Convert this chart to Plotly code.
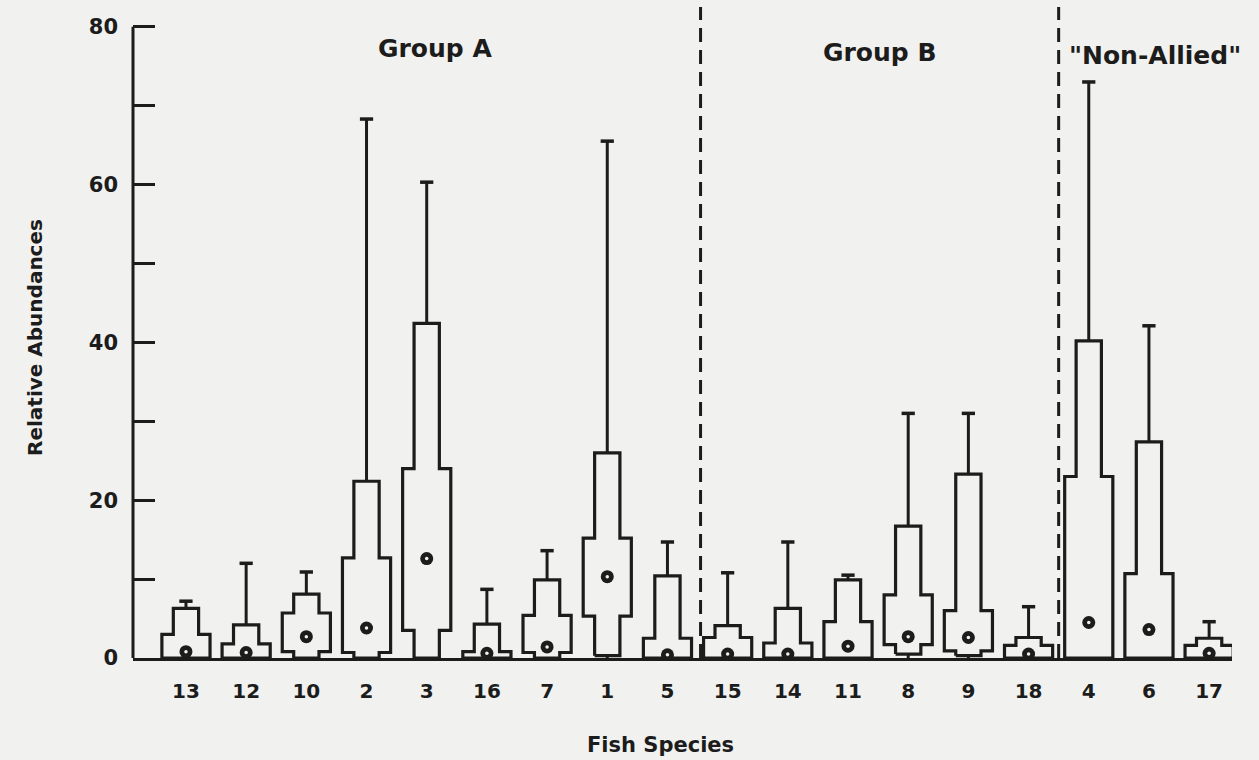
import plotly.graph_objects as go

species = ["13", "12", "10", "2", "3", "16", "7", "1", "5",
           "15", "14", "11", "8", "9", "18", "4", "6", "17"]
p10 = [0, 0, 0, 0, 0, 0, 0, 0.3, 0, 0, 0, 0, 0.5, 0.3, 0, 0, 0, 0]
p25 = [0, 0, 0.8, 0.7, 3.5, 0, 0.7, 5.3, 0, 0, 0, 0, 1.7, 0.9, 0, 0, 0, 0]
median = [0.8, 0.7, 2.7, 3.8, 12.6, 0.6, 1.4, 10.3, 0.4,
          0.5, 0.5, 1.5, 2.7, 2.6, 0.5, 4.5, 3.6, 0.6]
p75 = [3.0, 1.8, 5.7, 12.7, 24.0, 0.8, 5.4, 15.2, 2.5,
       2.6, 1.9, 4.6, 8.0, 6.0, 1.6, 23.0, 10.7, 1.6]
p90 = [6.3, 4.2, 8.1, 22.4, 42.4, 4.3, 9.9, 26.0, 10.4,
       4.1, 6.3, 9.9, 16.7, 23.3, 2.6, 40.2, 27.4, 2.5]
maximum = [7.2, 12.0, 10.9, 68.3, 60.3, 8.7, 13.6, 65.5, 14.7,
           10.8, 14.7, 10.5, 31.0, 31.0, 6.5, 73.0, 42.1, 4.6]

groups = ["Group A", "Group B", "\"Non-Allied\""]
group_x = [4.14, 11.53, 16.1]
group_y = [77.3, 76.7, 76.3]
dividers = [8.55, 14.5]

y_ticks = [0, 20, 40, 60, 80]
y_minor = [10, 30, 50, 70]

INK = "#1c1c1c"
BG = "#f1f1ef"
FONT = "DejaVu Sans"
W, N, CAP = 0.8, 0.42, 0.22

fig = go.Figure()

for i, name in enumerate(species):
    c = i
    xs = [c - N / 2, c - N / 2, c - W / 2, c - W / 2, c - N / 2, c - N / 2,
          c + N / 2, c + N / 2, c + W / 2, c + W / 2, c + N / 2, c + N / 2, c - N / 2]
    ys = [p10[i], p25[i], p25[i], p75[i], p75[i], p90[i],
          p90[i], p75[i], p75[i], p25[i], p25[i], p10[i], p10[i]]
    fig.add_trace(go.Scatter(x=xs, y=ys, mode="lines",
                             line=dict(color=INK, width=3.2),
                             hoverinfo="skip", showlegend=False))

wx, wy, cx, cy = [], [], [], []
for i in range(len(species)):
    wx += [i, i, None]
    wy += [p90[i], maximum[i], None]
    if p10[i] > 0:
        wx += [i, i, None]
        wy += [0, p10[i], None]
    cx += [i - CAP / 2, i + CAP / 2, None]
    cy += [maximum[i], maximum[i], None]

fig.add_trace(go.Scatter(x=wx, y=wy, mode="lines", line=dict(color=INK, width=3),
                         hoverinfo="skip", showlegend=False))
fig.add_trace(go.Scatter(x=cx, y=cy, mode="lines", line=dict(color=INK, width=3.5),
                         hoverinfo="skip", showlegend=False))
fig.add_trace(go.Scatter(x=list(range(len(species))), y=median, mode="markers",
                         marker=dict(size=13, color=INK, line=dict(width=0)),
                         showlegend=False))
fig.add_trace(go.Scatter(x=list(range(len(species))), y=median, mode="markers",
                         marker=dict(size=3.5, color=BG, line=dict(width=0)),
                         hoverinfo="skip", showlegend=False))

shapes = [dict(type="line", xref="paper", yref="paper", x0=0, x1=0,
               y0=0, y1=80 / 82.5, line=dict(color=INK, width=3))]
for d in dividers:
    shapes.append(dict(type="line", xref="x", yref="paper", x0=d, x1=d, y0=0, y1=1,
                       line=dict(color=INK, width=3, dash="14px,8px")))

annotations = []
for g, gx, gy in zip(groups, group_x, group_y):
    annotations.append(dict(text="<b>%s</b>" % g, x=gx, y=gy, xref="x", yref="y",
                            showarrow=False, xanchor="center", yanchor="middle",
                            font=dict(family=FONT, size=25, color=INK)))
annotations.append(dict(text="<b>Fish Species</b>", x=(660 - 133) / 1099, y=(658 - 745) / 651,
                        xref="paper", yref="paper", showarrow=False,
                        xanchor="center", yanchor="middle",
                        font=dict(family=FONT, size=21, color=INK)))
annotations.append(dict(text="<b>Relative Abundances</b>", x=(35 - 133) / 1099,
                        y=(658 - 338) / 651, xref="paper", yref="paper", showarrow=False,
                        xanchor="center", yanchor="middle", textangle=-90,
                        font=dict(family=FONT, size=20, color=INK)))

fig.update_layout(
    width=1259, height=760,
    margin=dict(l=133, r=27, t=7, b=102),
    paper_bgcolor=BG, plot_bgcolor=BG,
    shapes=shapes, annotations=annotations,
    xaxis=dict(range=[-0.88, 17.38], tickvals=list(range(len(species))),
               ticktext=["<b>%s</b>" % s for s in species], ticks="", showline=True,
               linecolor=INK, linewidth=3,
               showgrid=False, zeroline=False, ticklabelstandoff=13,
               tickfont=dict(family=FONT, size=20, color=INK)),
    yaxis=dict(range=[0, 82.5], tickvals=y_ticks,
               ticktext=["<b>%d</b>" % v for v in y_ticks],
               ticks="inside", ticklen=22, tickwidth=2.5, tickcolor=INK,
               minor=dict(tickvals=y_minor, ticks="inside", ticklen=22,
                          tickwidth=2.5, tickcolor=INK),
               showline=False, showgrid=False, zeroline=False, ticklabelstandoff=14,
               tickfont=dict(family=FONT, size=21, color=INK)),
)

fig.write_html("out.html")
